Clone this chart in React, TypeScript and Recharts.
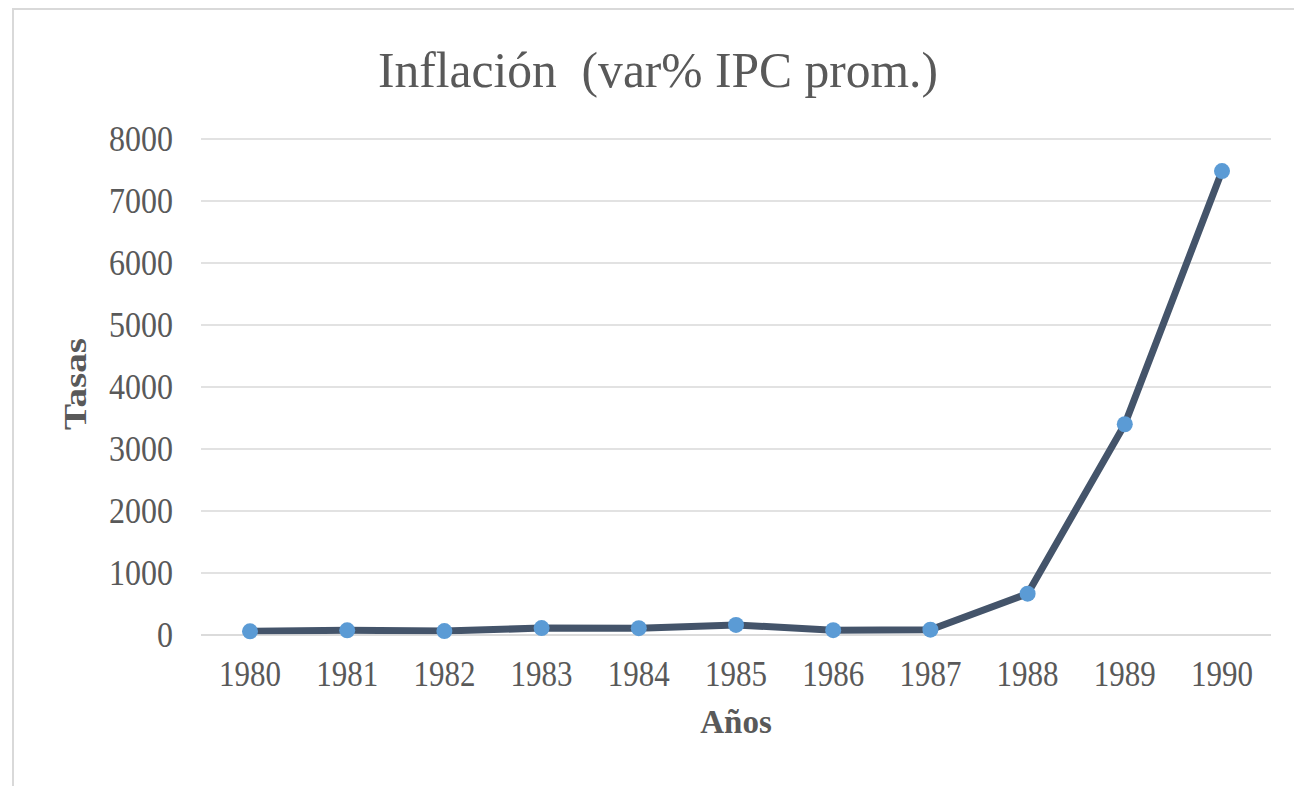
import { LineChart, Line, XAxis, YAxis, CartesianGrid } from 'recharts';

const years = ['1980', '1981', '1982', '1983', '1984', '1985', '1986', '1987', '1988', '1989', '1990'];
const inflation = [59, 75, 64, 111, 110, 163, 78, 86, 667, 3399, 7482];
const yTicks = [0, 1000, 2000, 3000, 4000, 5000, 6000, 7000, 8000];

const data = years.map((year, i) => ({ year, value: inflation[i] }));

const FONT = '"Liberation Serif", "Times New Roman", serif';
const TEXT = '#595959';

// Excel-style narrow serif digits
function XTick(props: any) {
  const { x, y, payload } = props;
  const s = String(payload.value);
  return (
    <text x={x} y={y} dy="0.34em" textAnchor="middle" fill={TEXT} fontFamily={FONT} fontSize={35}
      textLength={s.length * 15.5} lengthAdjust="spacingAndGlyphs">
      {s}
    </text>
  );
}

function YTick(props: any) {
  const { x, y, payload } = props;
  const s = String(payload.value);
  return (
    <text x={x} y={y} dy="0.34em" textAnchor="end" fill={TEXT} fontFamily={FONT} fontSize={35}
      textLength={s.length * 16} lengthAdjust="spacingAndGlyphs">
      {s}
    </text>
  );
}

export default function App() {
  return (
    <div style={{ position: 'relative', width: 1294, height: 778 }}>
      <div
        style={{
          position: 'absolute', left: 4, top: 0, width: 1290, height: 778,
          borderLeft: '2px solid #d9d9d9', borderTop: '2px solid #d9d9d9', boxSizing: 'border-box',
        }}
      />
      <div style={{ position: 'absolute', left: 0, top: 0 }}>
        <LineChart width={1294} height={778} data={data} margin={{ top: 131, right: 31, bottom: 91, left: 0 }}>
          <CartesianGrid vertical={false} stroke="#d9d9d9" strokeWidth={1.5} />
          <XAxis
            dataKey="year"
            height={60}
            padding={{ left: 49, right: 49 }}
            axisLine={{ stroke: '#d9d9d9', strokeWidth: 1.5 }}
            tickLine={false}
            tickSize={0}
            tickMargin={39}
            tick={<XTick />}
            interval={0}
          />
          <YAxis
            width={193}
            domain={[0, 8000]}
            ticks={yTicks}
            axisLine={false}
            tickLine={false}
            tickSize={0}
            tickMargin={28}
            tick={<YTick />}
          />
          <Line
            dataKey="value"
            stroke="#44546A"
            strokeWidth={7}
            strokeLinejoin="round"
            dot={{ r: 8, fill: '#5B9BD5', stroke: '#5B9BD5', strokeWidth: 0 }}
            activeDot={false}
            isAnimationActive={false}
          />
          <text x={650} y={79} textAnchor="middle" fill={TEXT} fontFamily={FONT} fontSize={50}
            textLength={560} lengthAdjust="spacingAndGlyphs" style={{ whiteSpace: 'pre' }}>
            Inflación  (var% IPC prom.)
          </text>
          <text x={728} y={725} textAnchor="middle" fill={TEXT} fontFamily={FONT} fontSize={33} fontWeight="bold">
            Años
          </text>
          <text x={67} y={376} transform="rotate(-90 67 376)" textAnchor="middle" dy="0.34em" fill={TEXT}
            fontFamily={FONT} fontSize={32} fontWeight="bold" textLength={92} lengthAdjust="spacingAndGlyphs">
            Tasas
          </text>
        </LineChart>
      </div>
    </div>
  );
}
